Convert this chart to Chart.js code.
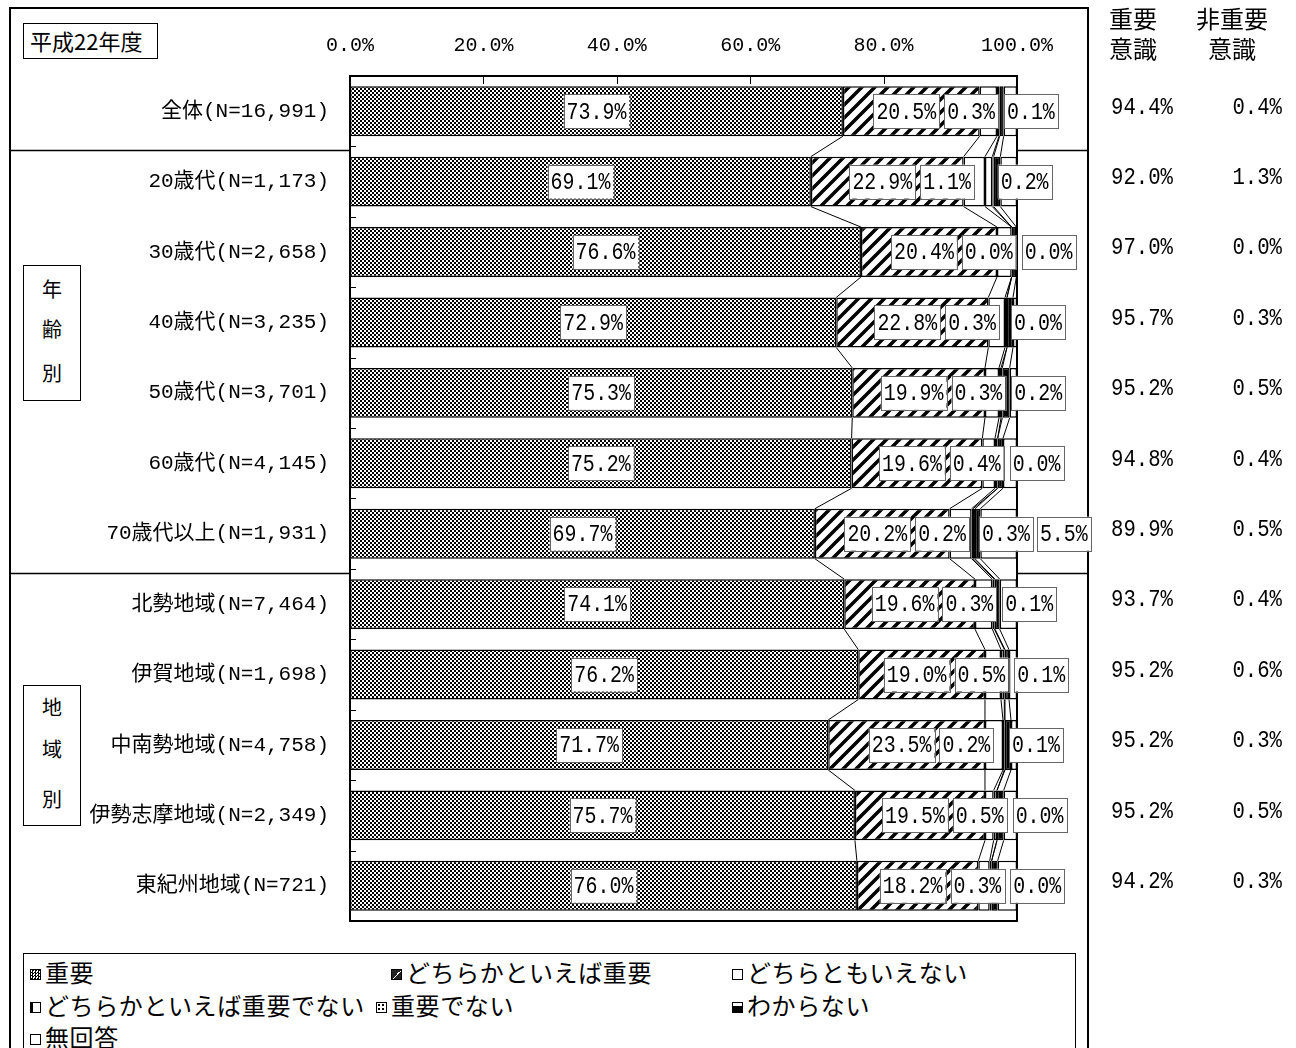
<!DOCTYPE html>
<html lang="ja">
<head>
<meta charset="utf-8">
<title>平成22年度</title>
<script src="https://cdn.jsdelivr.net/npm/chart.js@4.4.1/dist/chart.umd.min.js"></script>
<style>
body{margin:0;background:#fff;font-family:"Liberation Mono","Noto Sans CJK JP",sans-serif;color:#000;}
#wrap{position:relative;width:1296px;height:1048px;overflow:hidden;}
#chart{position:absolute;left:0;top:0;z-index:1;}
.frame{position:absolute;left:9px;top:7px;width:1080px;height:1100px;border:2px solid #000;box-sizing:border-box;z-index:0;}
.box{position:absolute;border:1.5px solid #000;background:#fff;box-sizing:border-box;z-index:2;}
.title{left:23px;top:23px;width:135px;height:36px;font-size:22px;line-height:33px;padding-left:6px;font-family:"Noto Sans CJK JP",sans-serif;}
.group{left:23px;width:58px;font-size:20px;text-align:center;font-family:"Noto Sans CJK JP",sans-serif;}
.group div{position:absolute;left:0;width:100%;}
.head{position:absolute;z-index:2;font-size:24px;line-height:30px;text-align:center;font-family:"Noto Sans CJK JP",sans-serif;}
.legend{left:23px;top:953px;width:1053px;height:120px;font-size:24px;letter-spacing:0.6px;font-family:"Noto Sans CJK JP",sans-serif;}
.item{position:absolute;height:30px;line-height:30px;white-space:nowrap;}
.ico{display:inline-block;width:11px;height:11px;border:1.5px solid #000;margin-right:4px;vertical-align:2px;box-sizing:border-box;}
</style>
</head>
<body>
<div id="wrap">
  <div class="frame"></div>
  <canvas id="chart" width="1296" height="1048"></canvas>
  <div class="box title">平成22年度</div>
  <div class="box group" style="top:265px;height:136px;"><div style="top:8px">年</div><div style="top:48px">齢</div><div style="top:92px">別</div></div>
  <div class="box group" style="top:685px;height:141px;"><div style="top:6px">地</div><div style="top:48px">域</div><div style="top:98px">別</div></div>
  <div class="head" style="left:1103px;top:3px;width:60px;">重要<br>意識</div>
  <div class="head" style="left:1187px;top:3px;width:90px;">非重要<br>意識</div>
  <div class="box legend">
    <div class="item" style="left:6px;top:3px;"><span class="ico" style="background:repeating-conic-gradient(#000 0 25%,#fff 0 50%) 0 0/3px 3px;"></span>重要</div>
    <div class="item" style="left:367px;top:3px;"><span class="ico" style="background:linear-gradient(135deg,#222 0 50%,#fff 50% 60%,#222 60%);"></span>どちらかといえば重要</div>
    <div class="item" style="left:708px;top:3px;"><span class="ico" style="background:#fff;"></span>どちらともいえない</div>
    <div class="item" style="left:6px;top:36px;"><span class="ico" style="background:#fff;border-left-width:3px;"></span>どちらかといえば重要でない</div>
    <div class="item" style="left:352px;top:36px;"><span class="ico" style="background:radial-gradient(#000 30%,#fff 40%) 0 0/4px 4px;"></span>重要でない</div>
    <div class="item" style="left:708px;top:36px;"><span class="ico" style="background:linear-gradient(#fff 0 30%,#000 30%);"></span>わからない</div>
    <div class="item" style="left:6px;top:68px;"><span class="ico" style="background:#fff;"></span>無回答</div>
  </div>
</div>
<script>
// data
const categories = ['全体(N=16,991)', '20歳代(N=1,173)', '30歳代(N=2,658)', '40歳代(N=3,235)', '50歳代(N=3,701)', '60歳代(N=4,145)', '70歳代以上(N=1,931)', '北勢地域(N=7,464)', '伊賀地域(N=1,698)', '中南勢地域(N=4,758)', '伊勢志摩地域(N=2,349)', '東紀州地域(N=721)'];
const seriesNames = ['重要', 'どちらかといえば重要', 'どちらともいえない', 'どちらかといえば重要でない', '重要でない', 'わからない', '無回答'];
const juyo = [73.9, 69.1, 76.6, 72.9, 75.3, 75.2, 69.7, 74.1, 76.2, 71.7, 75.7, 76.0];
const dochiraJuyo = [20.5, 22.9, 20.4, 22.8, 19.9, 19.6, 20.2, 19.6, 19.0, 23.5, 19.5, 18.2];
const dochiraMo = [2.6, 3.2, 2.2, 2.5, 2.1, 1.9, 3.3, 2.6, 2.4, 2.7, 1.3, 1.7];
const dochiraNai = [0.3, 1.1, 0.0, 0.3, 0.3, 0.4, 0.2, 0.3, 0.5, 0.2, 0.5, 0.3];
const juyoDenai = [0.1, 0.2, 0.0, 0.0, 0.2, 0.0, 0.3, 0.1, 0.1, 0.1, 0.0, 0.0];
const wakaranai = [0.6, 1.0, 0.7, 0.9, 1.1, 0.8, 0.8, 0.7, 0.6, 0.9, 1.0, 0.9];
const mukaitou = [2.0, 2.5, 0.1, 0.6, 1.1, 2.1, 5.5, 2.6, 1.2, 0.9, 2.0, 2.9];
const juyoIshiki = ['94.4%', '92.0%', '97.0%', '95.7%', '95.2%', '94.8%', '89.9%', '93.7%', '95.2%', '95.2%', '95.2%', '94.2%'];
const hiJuyoIshiki = ['0.4%', '1.3%', '0.0%', '0.3%', '0.5%', '0.4%', '0.5%', '0.4%', '0.6%', '0.3%', '0.5%', '0.3%'];
const xTicks = ['0.0%', '20.0%', '40.0%', '60.0%', '80.0%', '100.0%'];

const canvas = document.getElementById('chart');
const ctx = canvas.getContext('2d');
const FONT = '"Liberation Mono", "Noto Sans CJK JP", monospace';

function makePattern(size, draw) {
  const c = document.createElement('canvas');
  c.width = c.height = size;
  const g = c.getContext('2d');
  g.fillStyle = '#fff';
  g.fillRect(0, 0, size, size);
  draw(g, size);
  return ctx.createPattern(c, 'repeat');
}
const checker = makePattern(4, g => { g.fillStyle = '#000'; g.fillRect(0, 0, 2, 2); g.fillRect(2, 2, 2, 2); });
const hatch = makePattern(13, (g, s) => {
  g.strokeStyle = '#000'; g.lineWidth = 3.5; g.beginPath();
  g.moveTo(-3, s + 3); g.lineTo(s + 3, -3);
  g.moveTo(-3, 3); g.lineTo(3, -3);
  g.moveTo(s - 3, s + 3); g.lineTo(s + 3, s - 3);
  g.stroke();
});
const dots = makePattern(4, g => { g.fillStyle = '#000'; g.fillRect(1, 1, 1, 1); });
const fills = [checker, hatch, '#fff', '#fff', dots, '#000', '#fff'];
const seriesData = [juyo, dochiraJuyo, dochiraMo, dochiraNai, juyoDenai, wakaranai, mukaitou];

// tall narrow text like the original
const LSIZE = 24, LSX = 0.83;
function textW(c, text) {
  c.font = LSIZE + 'px ' + FONT;
  return c.measureText(text).width * LSX;
}
function narrowText(c, text, x, y, align, sx) {
  c.save();
  c.font = LSIZE + 'px ' + FONT;
  c.translate(x, y);
  c.scale(sx, 1);
  c.textAlign = align;
  c.textBaseline = 'middle';
  c.fillStyle = '#000';
  c.fillText(text, 0, 0);
  c.restore();
}
function labelBox(c, text, cx, cy) {
  const w = textW(c, text) + 6;
  const h = 34;
  c.fillStyle = '#fff';
  c.fillRect(cx - w / 2, cy - h / 2, w, h);
  c.strokeStyle = '#666';
  c.lineWidth = 1;
  c.strokeRect(Math.round(cx - w / 2) + 0.5, Math.round(cy - h / 2) + 0.5, Math.round(w), h);
  narrowText(c, text, cx, cy + 1, 'center', LSX);
  return w;
}

const deco = {
  id: 'deco',
  beforeDatasetsDraw(chart) {
    const c = chart.ctx, a = chart.chartArea, ys = chart.scales.y;
    c.save();
    c.fillStyle = '#fff';
    c.fillRect(a.left, a.top, a.right - a.left, a.bottom - a.top);
    // group separators
    c.strokeStyle = '#000';
    c.lineWidth = 1.5;
    [0, 6].forEach(i => {
      const y = Math.round((ys.getPixelForValue(i) + ys.getPixelForValue(i + 1)) / 2) + 4.5;
      c.beginPath();
      c.moveTo(10, y); c.lineTo(a.left, y);
      c.moveTo(a.right, y); c.lineTo(1088, y);
      c.stroke();
    });
    c.restore();
  },
  afterDatasetsDraw(chart) {
    const c = chart.ctx, a = chart.chartArea, xs = chart.scales.x, ys = chart.scales.y;
    c.save();
    // series lines
    c.strokeStyle = '#000';
    c.lineWidth = 1;
    for (let d = 0; d < 6; d++) {
      const els = chart.getDatasetMeta(d).data;
      for (let i = 0; i < els.length - 1; i++) {
        const e1 = els[i], e2 = els[i + 1];
        c.beginPath();
        c.moveTo(e1.x, e1.y + e1.height / 2);
        c.lineTo(e2.x, e2.y - e2.height / 2);
        c.stroke();
      }
    }
    // plot border and ticks
    c.lineWidth = 2;
    c.strokeRect(a.left, a.top, a.right - a.left, a.bottom - a.top);
    c.lineWidth = 1;
    [20, 40, 60, 80].forEach(v => {
      const x = Math.round(xs.getPixelForValue(v)) + 0.5;
      c.beginPath(); c.moveTo(x, a.top); c.lineTo(x, a.top + 8); c.stroke();
    });
    for (let i = 0; i < categories.length - 1; i++) {
      const y = Math.round((ys.getPixelForValue(i) + ys.getPixelForValue(i + 1)) / 2) + 0.5;
      c.beginPath(); c.moveTo(a.left, y); c.lineTo(a.left + 6, y); c.stroke();
    }
    // data labels
    const m0 = chart.getDatasetMeta(0).data, m1 = chart.getDatasetMeta(1).data;
    const m4 = chart.getDatasetMeta(4).data;
    for (let i = 0; i < categories.length; i++) {
      const cy = ys.getPixelForValue(i);
      labelBox(c, juyo[i].toFixed(1) + '%', (m0[i].x + m0[i].base) / 2, cy);
      const c1 = (m1[i].x + m1[i].base) / 2 - 5;
      const w1 = labelBox(c, dochiraJuyo[i].toFixed(1) + '%', c1, cy);
      const w3 = textW(c, dochiraNai[i].toFixed(1) + '%') + 6;
      const c3 = c1 + w1 / 2 + 5 + w3 / 2;
      labelBox(c, dochiraNai[i].toFixed(1) + '%', c3, cy);
      const c4 = Math.max(m4[i].x + 31, c3 + w3 + 6);
      labelBox(c, juyoDenai[i].toFixed(1) + '%', c4, cy);
      if (mukaitou[i] >= 5) {
        labelBox(c, mukaitou[i].toFixed(1) + '%', c4 + w3 + 4, cy);
      }
    }
    // right columns
    for (let i = 0; i < categories.length; i++) {
      const y = ys.getPixelForValue(i) - 4;
      narrowText(c, juyoIshiki[i], 1173, y, 'right', 0.86);
      narrowText(c, hiJuyoIshiki[i], 1282, y, 'right', 0.86);
    }
    c.restore();
  }
};

new Chart(ctx, {
  type: 'bar',
  data: {
    labels: categories,
    datasets: seriesNames.map((name, k) => ({
      label: name,
      data: seriesData[k],
      backgroundColor: fills[k],
      borderColor: '#000',
      borderWidth: 1.5,
      borderSkipped: false,
      barPercentage: 0.71,
      categoryPercentage: 1
    }))
  },
  options: {
    indexAxis: 'y',
    responsive: false,
    animation: false,
    devicePixelRatio: 1,
    layout: { padding: { left: 0, right: 279, top: 0, bottom: 127 } },
    plugins: { legend: { display: false }, tooltip: { enabled: false } },
    scales: {
      x: {
        stacked: true,
        position: 'top',
        min: 0,
        max: 100,
        ticks: {
          stepSize: 20,
          callback: (v, i) => xTicks[i],
          font: { family: FONT, size: 20 },
          color: '#000',
          padding: 18,
          maxRotation: 0
        },
        grid: { display: false, drawTicks: false },
        border: { display: false },
        afterFit(s) { s.height = 76; }
      },
      y: {
        stacked: true,
        ticks: { font: { family: FONT, size: 21 }, color: '#000', padding: 21 },
        grid: { display: false, drawTicks: false },
        border: { display: false },
        afterFit(s) { s.width = 350; }
      }
    }
  },
  plugins: [deco]
});
</script>
</body>
</html>
